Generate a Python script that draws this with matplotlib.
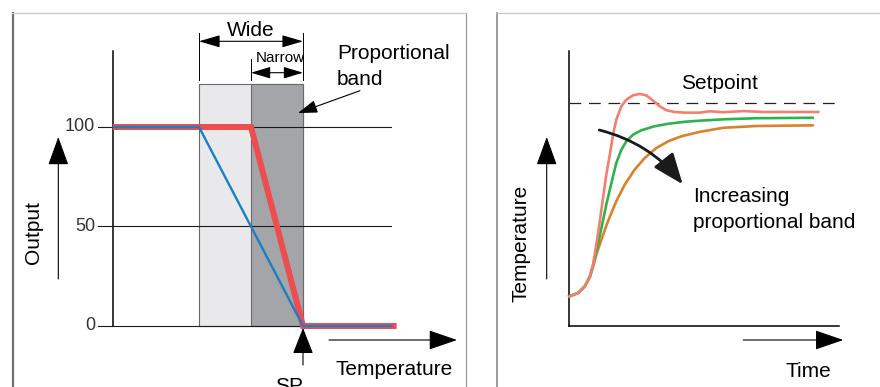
import matplotlib
matplotlib.use("Agg")
import matplotlib.pyplot as plt
from matplotlib.patches import Rectangle

plt.rcParams['font.family'] = ['Liberation Sans', 'DejaVu Sans']

# ---------------- data ----------------
# Left panel: output vs temperature for two proportional bands (SP = 0)
setpoint_temp = 0
band_names = ['Wide', 'Narrow']
band_widths = [100, 50]
band_top = 121.6
output_ticks = [0, 50, 100]
output_tick_labels = ['0', '50', '100']
wide_temp = [-183, -100, 0, 86]
wide_out = [100, 100, 0, 0]
narrow_temp = [-183, -50, 0, 90]
narrow_out = [100, 100, 0, 0]

# Right panel: temperature response vs time (setpoint = 100)
setpoint_level = 100
red_time = [0, 3.2, 5.7, 7.6, 8.8, 10.0, 11.3, 12.5, 13.7, 15.0, 16.2, 17.4, 19.3, 21.1,
            23.6, 26.1, 28.5, 31.0, 33.5, 35.9, 39.0, 42.7, 48.4, 52.1, 57.0, 64.4, 71.9,
            81.7, 92.2]
red_temp = [13.3, 14.8, 17.8, 22.3, 27.5, 36.5, 47.0, 57.5, 67.9, 76.9, 85.9, 92.6, 98.7,
            101.6, 103.6, 104.2, 103.6, 101.2, 98.7, 96.9, 96.1, 95.8, 95.8, 96.4, 96.0,
            96.5, 96.1, 96.1, 96.1]
green_time = [0, 3.2, 5.7, 7.6, 8.8, 10.0, 11.9, 13.7, 15.6, 17.4, 19.3, 21.1, 23.6, 26.7,
              31.6, 36.6, 42.7, 48.4, 57.0, 69.4, 90.1]
green_temp = [13.3, 14.8, 17.8, 22.3, 27.3, 33.5, 44.0, 54.5, 64.2, 73.2, 79.2, 82.9, 85.9,
              87.9, 89.7, 90.8, 91.7, 92.2, 92.8, 93.3, 93.5]
orange_time = [0, 3.2, 5.7, 7.6, 8.8, 10.0, 11.9, 14.3, 17.4, 20.5, 24.2, 27.9, 32.2, 36.6,
               41.5, 48.4, 57.0, 69.4, 90.1]
orange_temp = [13.3, 14.8, 17.6, 21.8, 26.5, 32.0, 38.8, 47.0, 56.0, 63.4, 70.2, 75.4, 79.9,
               82.9, 85.2, 87.2, 89.0, 89.8, 90.1]

# ---------------- layout helpers ----------------
W, H = 880, 387
fig = plt.figure(figsize=(W / 100, H / 100), dpi=100)


def make_axes(box, fx, fy):
    l, t, r, b = box
    ax = fig.add_axes([l / W, 1 - b / H, (r - l) / W, (b - t) / H])
    ax.set_xlim(fx(l), fx(r))
    ax.set_ylim(fy(b), fy(t))
    ax.set_xticks([])
    ax.set_yticks([])
    ax.patch.set_alpha(0)
    return ax


def arrow(ax, tail, tip, hl, hw, lw=0.8, style='-|>', conn=None, color='black'):
    props = dict(arrowstyle=f'{style},head_length={hl},head_width={hw}',
                 mutation_scale=1, lw=lw, color=color, shrinkA=0, shrinkB=0)
    if conn:
        props['connectionstyle'] = conn
    ax.annotate('', xy=tip, xytext=tail, xycoords='data', textcoords='data',
                arrowprops=props, annotation_clip=False)


# ---------------- left panel ----------------
lx = lambda px: (px - 303) / 1.04
ly = lambda py: (326 - py) / 1.99
axL = make_axes((12.5, 12.7, 466, 420), lx, ly)
axL.spines['bottom'].set_visible(False)
axL.spines['left'].set_color('#707070')
axL.spines['left'].set_linewidth(1.6)
axL.spines['top'].set_color('#c8c8c8')
axL.spines['top'].set_linewidth(0.9)
axL.spines['right'].set_color('#9a9a9a')
axL.spines['right'].set_linewidth(0.9)

# bands
axL.add_patch(Rectangle((setpoint_temp - band_widths[0], 0), band_widths[0], band_top,
                        facecolor='#e9e9ec', edgecolor='#6a6a6a', lw=0.8, zorder=1))
axL.add_patch(Rectangle((setpoint_temp - band_widths[1], 0), band_widths[1], band_top,
                        facecolor='#a3a5a8', edgecolor='#6a6a6a', lw=0.8, zorder=1))

# gridlines and tick labels
for v, lab in zip(output_ticks, output_tick_labels):
    axL.plot([lx(98), lx(391)], [v, v], color='#1a1a1a', lw=0.8, zorder=2)
    axL.text(lx(95), v, lab, ha='right', va='center', fontsize=13, color='#333333')
# y axis line
axL.plot([wide_temp[0], wide_temp[0]], [0, ly(51)], color='black', lw=1.1, zorder=2)

# response lines
axL.plot(narrow_temp, narrow_out, color='#ee4c4f', lw=4.3, solid_capstyle='butt',
         solid_joinstyle='miter', zorder=3)
axL.plot(wide_temp, wide_out, color='#1b7fc3', lw=1.7, solid_capstyle='butt', zorder=4)

# band dimension annotations
wide_l = setpoint_temp - band_widths[0]
nar_l = setpoint_temp - band_widths[1]
for xv, top in [(wide_l, ly(33)), (setpoint_temp, ly(33)), (nar_l, ly(59))]:
    axL.plot([xv, xv], [top, ly(80)], color='black', lw=0.7)
arrow(axL, (wide_l, ly(41.3)), (setpoint_temp, ly(41.3)), 13, 3.8, lw=0.8, style='<|-|>')
arrow(axL, (nar_l, ly(72.7)), (setpoint_temp, ly(72.7)), 12, 3.6, lw=0.8, style='<|-|>')
axL.text((wide_l + setpoint_temp) / 2, ly(36), band_names[0], ha='center', va='baseline',
         fontsize=15)
axL.text(lx(280), ly(62.3), band_names[1], ha='center', va='baseline', fontsize=11,
         family=['Liberation Sans Narrow', 'Liberation Sans', 'DejaVu Sans'])
axL.text(lx(337), ly(59.3), 'Proportional', ha='left', va='baseline', fontsize=15)
axL.text(lx(337), ly(85), 'band', ha='left', va='baseline', fontsize=15)
arrow(axL, (lx(360), ly(90.7)), (lx(298), ly(113)), 12, 4, lw=0.8)

# axis arrows and labels
arrow(axL, (lx(58.3), ly(279)), (lx(58.3), ly(137)), 18, 6.5, lw=0.8)
axL.text(lx(34), ly(233), 'Output', rotation=90, ha='center', va='center', fontsize=15)
arrow(axL, (lx(329), ly(340)), (lx(457), ly(340)), 18, 6.2, lw=0.8)
axL.text(lx(335), ly(375), 'Temperature', ha='left', va='baseline', fontsize=15)
arrow(axL, (setpoint_temp, ly(365)), (setpoint_temp, ly(328)), 16.5, 6.5, lw=0.8)
axL.text(lx(289), ly(377), 'SP', ha='center', va='top', fontsize=15)

# ---------------- right panel ----------------
rx = lambda px: (px - 569.3) / 2.7
ry = lambda py: (326 - py) / 2.227
axR = make_axes((496.7, 12.7, 900, 420), rx, ry)
axR.spines['bottom'].set_visible(False)
axR.spines['right'].set_visible(False)
axR.spines['left'].set_color('#8a8a8a')
axR.spines['left'].set_linewidth(1.2)
axR.spines['top'].set_color('#c8c8c8')
axR.spines['top'].set_linewidth(0.9)

axR.plot([0, 0], [0, ry(51)], color='black', lw=1.1)
axR.plot([0, rx(839.3)], [0, 0], color='black', lw=1.1)
axR.plot([0, rx(840)], [setpoint_level, setpoint_level], color='#222222', lw=0.9,
         dashes=(9.4, 6.2))
axR.text(rx(680.7), ry(89), 'Setpoint', ha='left', va='baseline', fontsize=15)

axR.plot(orange_time, orange_temp, color='#d9822b', lw=1.9, solid_joinstyle='round')
axR.plot(green_time, green_temp, color='#2db34c', lw=1.9, solid_joinstyle='round')
axR.plot(red_time, red_temp, color='#f2806f', lw=1.9, solid_joinstyle='round')

arrow(axR, (rx(599.3), ry(130)), (rx(682.7), ry(184.3)), 19, 7.5, lw=2.0,
      conn='arc3,rad=-0.17', color='#1a1a1a')
axR.text(rx(693.3), ry(201.7), 'Increasing', ha='left', va='baseline', fontsize=15)
axR.text(rx(693.3), ry(227.7), 'proportional band', ha='left', va='baseline', fontsize=15)

arrow(axR, (rx(546.7), ry(279)), (rx(546.7), ry(137)), 18, 6.5, lw=0.8)
axR.text(rx(520.7), ry(243.3), 'Temperature', rotation=90, ha='center', va='center',
         fontsize=15)
arrow(axR, (rx(743.3), ry(340)), (rx(843.3), ry(340)), 18, 6.2, lw=0.8)
axR.text(rx(786), ry(377), 'Time', ha='left', va='baseline', fontsize=15)

fig.savefig('out.png', dpi=100)
